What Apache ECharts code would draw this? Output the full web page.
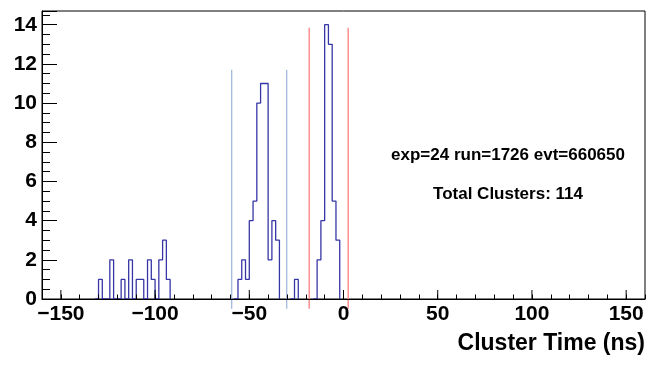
<!DOCTYPE html>
<html>
<head>
<meta charset="utf-8">
<script src="https://cdn.jsdelivr.net/npm/echarts@6/dist/echarts.min.js"></script>
<style>
  html, body { margin: 0; padding: 0; background: #fff; }
  #chart { width: 657px; height: 365px; }
</style>
</head>
<body>
<div id="chart"></div>
<script>
// histogram: 160 bins of 2 ns from -160 to 160, only the filled bins listed
var histMin = -160;
var histMax = 160;
var binWidth = 2;
var binLow = [-130, -124, -118, -114, -110, -108, -104, -102, -98, -96, -94,
              -56, -54, -52, -50, -48, -46, -44, -42, -40, -38, -36, -26,
              -14, -12, -10, -8, -6, -4];
var binCount = [1, 2, 1, 2, 1, 1, 2, 1, 2, 3, 1,
                1, 2, 1, 4, 5, 10, 11, 11, 2, 4, 3, 1,
                2, 4, 14, 13, 5, 3];

// window lines
var blueLineX = [-59.3, -30.1];
var blueLineTop = 11.7;
var redLineX = [-18.2, 2.5];
var redLineTop = 13.85;
var lineBottom = -0.5;

var xMajorTicks = [-150, -100, -50, 0, 50, 100, 150];
var infoText = ['exp=24 run=1726 evt=660650', 'Total Clusters: 114'];
var xTitle = 'Cluster Time (ns)';

var font = '"Liberation Sans", Arial, Helvetica, sans-serif';

// build step outline from the bins; long runs at zero are left out
// (they sit under the axis line anyway)
var counts = {};
for (var i = 0; i < binLow.length; i++) counts[binLow[i]] = binCount[i];
var vals = [];
for (var e = histMin; e < histMax; e += binWidth) vals.push(counts[e] || 0);
var hist = [];
for (var k = 0; k < vals.length; k++) {
  var x = histMin + k * binWidth;
  var prev = k > 0 ? vals[k - 1] : 0;
  var next = k < vals.length - 1 ? vals[k + 1] : 0;
  if (vals[k] > 0 || prev > 0 || next > 0) {
    hist.push([x, vals[k]]);
  } else if (hist.length && hist[hist.length - 1] !== null) {
    hist.push(null);
  }
}
hist.push([histMax, 0]);

function vline(x, top, color, width) {
  return {
    type: 'line',
    data: [[x, lineBottom], [x, top]],
    symbol: 'none',
    clip: false,
    silent: true,
    z: 3,
    lineStyle: { color: color, width: width }
  };
}

var myChart = echarts.init(document.getElementById('chart'), null, { renderer: 'canvas' });

var series = [{
  type: 'line',
  data: hist,
  step: 'end',
  symbol: 'none',
  connectNulls: false,
  silent: true,
  z: 4,
  lineStyle: { color: '#3636a6', width: 1.3 }
}, {
  // longer ticks at the labelled x values
  type: 'custom',
  silent: true,
  z: 5,
  data: xMajorTicks,
  renderItem: function (params, api) {
    var p = api.coord([api.value(0), 0]);
    return {
      type: 'line',
      shape: { x1: p[0], y1: p[1], x2: p[0], y2: p[1] - 9 },
      style: { stroke: '#000', lineWidth: 1 }
    };
  }
}];
blueLineX.forEach(function (x) { series.push(vline(x, blueLineTop, '#86a5d3', 1)); });
redLineX.forEach(function (x) { series.push(vline(x, redLineTop, '#ff8f8f', 1.5)); });

myChart.setOption({
  animation: false,
  grid: {
    left: 42, right: 12, top: 11, bottom: 66,
    show: true, borderColor: '#000', borderWidth: 1
  },
  xAxis: {
    type: 'value',
    min: histMin,
    max: histMax,
    interval: 10,
    z: 10,
    axisLine: { onZero: false, lineStyle: { color: '#000', width: 1.2 } },
    axisTick: { inside: true, length: 4.5, lineStyle: { color: '#000' } },
    splitLine: { show: false },
    axisLabel: {
      margin: 5,
      color: '#000',
      fontFamily: font,
      fontWeight: 'bold',
      fontSize: 21,
      formatter: function (v) {
        if (v % 50 !== 0 || Math.abs(v) > 150) return '';
        return v < 0 ? '\u2212' + (-v) : String(v);
      }
    }
  },
  yAxis: {
    type: 'value',
    min: 0,
    max: 14.7,
    interval: 2,
    z: 10,
    axisLine: { show: true, onZero: false, lineStyle: { color: '#000', width: 1 } },
    axisTick: { inside: true, length: 15, lineStyle: { color: '#000' } },
    minorTick: { show: true, splitNumber: 4, length: 8, lineStyle: { color: '#000' } },
    splitLine: { show: false },
    axisLabel: {
      margin: 5,
      color: '#000',
      fontFamily: font,
      fontWeight: 'bold',
      fontSize: 21,
      showMaxLabel: false,
      formatter: function (v) { return v % 2 === 0 ? String(v) : ''; }
    }
  },
  graphic: [{
    type: 'text', x: 508, y: 155,
    style: { text: infoText[0], fill: '#000', font: 'bold 17px ' + font, align: 'center', verticalAlign: 'middle' }
  }, {
    type: 'text', x: 508, y: 194,
    style: { text: infoText[1], fill: '#000', font: 'bold 17px ' + font, align: 'center', verticalAlign: 'middle' }
  }, {
    type: 'text', x: 645, y: 344,
    style: { text: xTitle, fill: '#000', font: 'bold 23px ' + font, align: 'right', verticalAlign: 'middle' }
  }],
  series: series
});
</script>
</body>
</html>
